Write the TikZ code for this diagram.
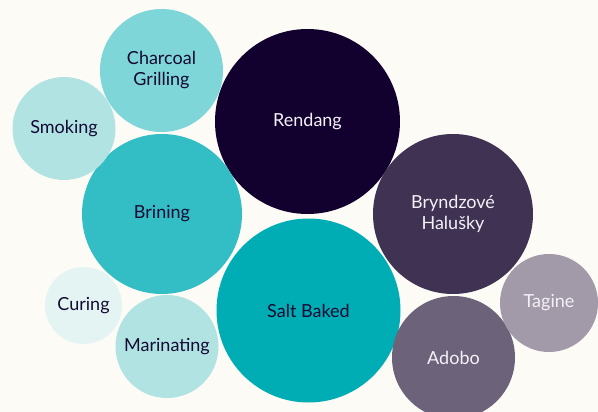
\documentclass[tikz,border=0pt]{standalone}
\usepackage{fontspec}
\setmainfont{Lato}
\definecolor{bg}{HTML}{FCFBF6}
\definecolor{ink}{HTML}{140A33}
\definecolor{paper}{HTML}{F3F1F7}
\definecolor{cRendang}{HTML}{12002E}
\definecolor{cBryn}{HTML}{403253}
\definecolor{cAdobo}{HTML}{6C6279}
\definecolor{cTagine}{HTML}{A29AA8}
\definecolor{cSalt}{HTML}{00ADB5}
\definecolor{cBrining}{HTML}{33BDC5}
\definecolor{cCharcoal}{HTML}{7ED6D8}
\definecolor{cSmoking}{HTML}{B1E3E3}
\definecolor{cMarin}{HTML}{B1E3E3}
\definecolor{cCuring}{HTML}{E4F4F3}
\tikzset{
  bubble/.style={circle, inner sep=0pt, align=center, font=\fontsize{18}{21}\selectfont},
  darktext/.style={text=ink},
  lighttext/.style={text=paper}
}
\begin{document}
\begin{tikzpicture}[x=1pt,y=-1pt]
\fill[bg] (0,0) rectangle (598,412);
\useasboundingbox (0,0) rectangle (598,412);
\begin{scope}
\clip (0,0) rectangle (598,412);
\node[bubble, fill=cRendang, lighttext, minimum size=185pt] (rendang) at (307.5,121.5) {Rendang};
\node[bubble, fill=cSalt, darktext, minimum size=184pt] (salt) at (308.5,310.5) {Salt Baked};
\node[bubble, fill=cBrining, darktext, minimum size=160pt] (brining) at (162,214) {Brining};
\node[bubble, fill=cBryn, lighttext, minimum size=160pt] (bryn) at (453,214) {Bryndzové\\Halušky};
\node[bubble, fill=cCharcoal, darktext, minimum size=123pt] (charcoal) at (161.5,70.5) {Charcoal\\Grilling};
\node[bubble, fill=cSmoking, darktext, minimum size=103pt] (smoking) at (64,128.5) {Smoking};
\node[bubble, fill=cCuring, darktext, minimum size=77pt] (curing) at (83.5,305.5) {Curing};
\node[bubble, fill=cMarin, darktext, minimum size=103pt] (marin) at (167,346.5) {Marinating};
\node[bubble, fill=cAdobo, lighttext, minimum size=123pt] (adobo) at (453.5,357.5) {Adobo};
\node[bubble, fill=cTagine, lighttext, minimum size=98pt] (tagine) at (549,303) {Tagine};
\end{scope}
\end{tikzpicture}
\end{document}
